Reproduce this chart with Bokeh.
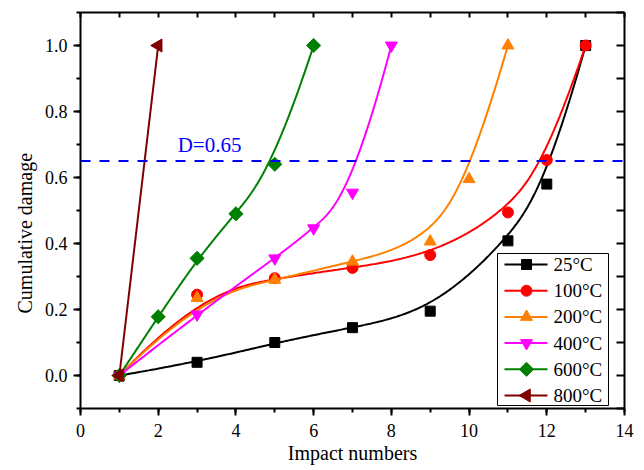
import numpy as np
from bokeh.plotting import figure
from bokeh.models import (LinearAxis, SingleIntervalTicker, Span, NumeralTickFormatter,
                          Range1d, CustomJSTickFormatter, Title)
from bokeh.core.properties import value
from bokeh.embed import file_html
from bokeh.resources import INLINE

# Cumulative damage vs. impact number for each exposure temperature
labels = ["25°C", "100°C", "200°C", "400°C", "600°C", "800°C"]
x_25 = [1, 3, 5, 7, 9, 11, 12, 13]
d_25 = [0.0, 0.04, 0.10, 0.145, 0.195, 0.408, 0.58, 1.0]
x_100 = [1, 3, 5, 7, 9, 11, 12, 13]
d_100 = [0.0, 0.245, 0.295, 0.326, 0.365, 0.494, 0.653, 1.0]
x_200 = [1, 3, 5, 7, 9, 10, 11]
d_200 = [0.0, 0.235, 0.29, 0.345, 0.406, 0.595, 1.0]
x_400 = [1, 3, 5, 6, 7, 8]
d_400 = [0.0, 0.185, 0.355, 0.446, 0.554, 1.0]
x_600 = [1, 2, 3, 4, 5, 6]
d_600 = [0.0, 0.178, 0.355, 0.49, 0.64, 1.0]
x_800 = [1, 2]
d_800 = [0.0, 1.0]
threshold = 0.65
threshold_label = "D=0.65"

colors = ["#000000", "#ff0000", "#ff8000", "#ff00ff", "#008000", "#800000"]
markers = ["square", "circle", "triangle", "inverted_triangle", "square", "triangle"]
marker_sizes = [10, 11, 12, 12, 10, 13]
marker_angles = [0, 0, 0, 0, np.pi / 4, np.pi / 2]

FONT = "Liberation Serif"
W, H = 644, 470
BL, BR, BT, BB = 80, 20, 12, 62          # borders around the plotting frame
FW, FH = W - BL - BR, H - BT - BB        # frame size in pixels


def bspline(xs, ys, n=300, k=3):
    """Clamped uniform cubic B-spline using the data points as control points."""
    P = np.column_stack([xs, ys]).astype(float)
    m = len(P)
    if m <= k:
        return list(xs), list(ys)
    knots = np.concatenate([[0.0] * k, np.arange(m - k + 1, dtype=float), [float(m - k)] * k])
    out = []
    for t in np.linspace(0, m - k, n):
        s = np.searchsorted(knots, t, side="right") - 1
        s = min(s, m - 1)
        d = [P[j + s - k].copy() for j in range(k + 1)]
        for r in range(1, k + 1):
            for j in range(k, r - 1, -1):
                den = knots[j + 1 + s - r] - knots[j + s - k]
                a = 0.0 if den == 0 else (t - knots[j + s - k]) / den
                d[j] = (1 - a) * d[j - 1] + a * d[j]
        out.append(d[k])
    out = np.array(out)
    return out[:, 0].tolist(), out[:, 1].tolist()


p = figure(width=W, height=H, output_backend="svg", toolbar_location=None,
           x_range=Range1d(0, 14), y_range=Range1d(-0.1, 1.1),
           min_border_left=BL, min_border_right=BR, min_border_top=BT, min_border_bottom=BB,
           background_fill_color="white", border_fill_color="white")
p.outline_line_color = None
p.xgrid.visible = False
p.ygrid.visible = False
# pixel coordinates inside the frame, used for the legend block
p.extra_x_ranges = {"px": Range1d(0, FW)}
p.extra_y_ranges = {"px": Range1d(0, FH)}

# bottom axis
xa = p.xaxis[0]
xa.ticker = SingleIntervalTicker(interval=2, num_minor_ticks=2)
xa.axis_label = "Impact numbers"
# left axis
ya = p.yaxis[0]
ya.ticker = SingleIntervalTicker(interval=0.2, num_minor_ticks=2)
ya.formatter = NumeralTickFormatter(format="0.0")

for ax in (xa, ya):
    ax.axis_line_width = 2
    ax.major_tick_line_width = 2
    ax.minor_tick_line_width = 2
    ax.major_tick_in = 0
    ax.major_tick_out = 7
    ax.minor_tick_in = 0
    ax.minor_tick_out = 4
    ax.major_label_text_font = FONT
    ax.major_label_text_font_size = "18px"
    ax.major_label_text_color = "black"
    ax.axis_label_text_font = FONT
    ax.axis_label_text_font_size = "20px"
    ax.axis_label_text_font_style = "normal"
    ax.axis_label_text_color = "black"
xa.major_label_standoff = 8
xa.axis_label_standoff = 2
ya.major_label_standoff = 6

# y axis title, set a little below the frame centre
p.add_layout(Title(text="Cumulative damage", align="left", offset=95,
                   text_font=FONT, text_font_size="20px", text_font_style="normal",
                   text_color="black", standoff=12), "left")

# mirrored frame axes with inward ticks and no labels
blank = CustomJSTickFormatter(code="return ''")
top = LinearAxis(ticker=SingleIntervalTicker(interval=1, num_minor_ticks=0), formatter=blank)
right = LinearAxis(ticker=SingleIntervalTicker(interval=0.1, num_minor_ticks=0), formatter=blank)
for ax, tin in ((top, 5), (right, 8)):
    ax.axis_line_width = 2
    ax.major_tick_line_width = 2
    ax.major_tick_in = tin
    ax.major_tick_out = 0
    ax.minor_tick_in = 0
    ax.minor_tick_out = 0
    ax.major_label_standoff = 0
p.add_layout(top, "above")
p.add_layout(right, "right")

# damage threshold
p.add_layout(Span(location=threshold, dimension="width", line_color="#0000ff",
                  line_width=2, line_dash="10 9"))
p.text(x=[2.5], y=[0.70], text=[threshold_label], text_font=value(FONT),
       text_font_size="21px", text_color="#0000ff", text_baseline="middle")

series = [(x_25, d_25), (x_100, d_100), (x_200, d_200),
          (x_400, d_400), (x_600, d_600), (x_800, d_800)]
for (xs, ys), c, mk, ms, ang in zip(series, colors, markers, marker_sizes, marker_angles):
    cx, cy = bspline(xs, ys)
    p.line(cx, cy, line_color=c, line_width=2)
    p.scatter(xs, ys, marker=mk, size=ms, angle=ang, fill_color=c, line_color=c)

# legend block (frame pixel units, origin at lower-left of the frame)
LEG_L, LEG_R, LEG_B, LEG_T = 417, 528, 3, 155
ROW0, ROW_STEP = 144, 26.2
LINE_X0, LINE_X1, MARK_X, TEXT_X = 424, 467, 446, 473
p.quad(left=[LEG_L], right=[LEG_R], bottom=[LEG_B], top=[LEG_T],
       fill_color="white", line_color="black", line_width=1,
       x_range_name="px", y_range_name="px")
for i, (lab, c, mk, ms, ang) in enumerate(zip(labels, colors, markers, marker_sizes, marker_angles)):
    ry = ROW0 - i * ROW_STEP
    p.line([LINE_X0, LINE_X1], [ry, ry], line_color=c, line_width=2,
           x_range_name="px", y_range_name="px")
    p.scatter([MARK_X], [ry], marker=mk, size=ms, angle=ang, fill_color=c, line_color=c,
              x_range_name="px", y_range_name="px")
    p.text(x=[TEXT_X], y=[ry], text=[lab], text_font=value(FONT), text_font_size="19px",
           text_color="black", text_baseline="middle",
           x_range_name="px", y_range_name="px")

open("out.html", "w").write(file_html(p, INLINE))
